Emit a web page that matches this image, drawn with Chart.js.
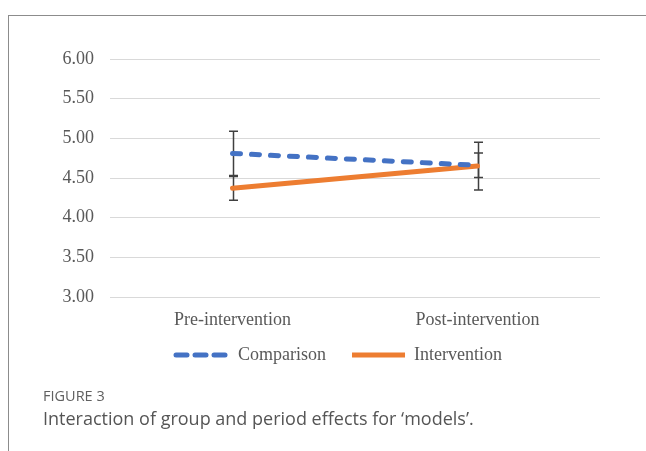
<!DOCTYPE html>
<html>
<head>
<meta charset="utf-8">
<script src="https://cdn.jsdelivr.net/npm/chart.js@4.4.0/dist/chart.umd.min.js"></script>
<style>
  html, body { margin: 0; padding: 0; background: #fff; }
  body { width: 646px; height: 451px; position: relative; overflow: hidden; }
  #frame { position: absolute; left: 8px; top: 15px; width: 660px; height: 460px;
           border-top: 1px solid #8c8c8c; border-left: 1px solid #8c8c8c; }
  #wrap { position: absolute; left: 0; top: 0; width: 646px; height: 420px; }
  #cap1 { position: absolute; left: 43px; top: 386px; font-family: "Open Sans", sans-serif;
          font-size: 14.5px; color: #606060; }
  #cap2 { position: absolute; left: 43px; top: 406px; font-family: "Open Sans", sans-serif;
          font-size: 18px; color: #555555; }
</style>
</head>
<body>
<div id="frame"></div>
<div id="wrap"><canvas id="c"></canvas></div>
<div id="cap1">FIGURE 3</div>
<div id="cap2">Interaction of group and period effects for ‘models’.</div>
<script>
const categories = ['Pre-intervention', 'Post-intervention'];
const comparison = [4.81, 4.66];
const intervention = [4.37, 4.65];
const comparisonErr = [0.28, 0.155];
const interventionErr = [0.15, 0.30];
const yTicks = [3.0, 3.5, 4.0, 4.5, 5.0, 5.5, 6.0];

const errorBars = {
  id: 'errorBars',
  beforeDatasetsDraw(chart) {
    const ctx = chart.ctx;
    const ys = chart.scales.y;
    const errs = [comparisonErr, interventionErr];
    ctx.save();
    ctx.strokeStyle = '#404040';
    ctx.lineWidth = 1.5;
    chart.data.datasets.forEach((ds, di) => {
      const meta = chart.getDatasetMeta(di);
      meta.data.forEach((pt, i) => {
        const v = ds.data[i], e = errs[di][i];
        const x = Math.round(pt.x) + 0.5;
        const yt = ys.getPixelForValue(v + e);
        const yb = ys.getPixelForValue(v - e);
        ctx.beginPath();
        ctx.moveTo(x, yt); ctx.lineTo(x, yb);
        ctx.moveTo(x - 4.5, yt); ctx.lineTo(x + 4.5, yt);
        ctx.moveTo(x - 4.5, yb); ctx.lineTo(x + 4.5, yb);
        ctx.stroke();
      });
    });
    ctx.restore();
  }
};

// nudge the legend block to match the reference placement
const legendNudge = {
  id: 'legendNudge',
  afterLayout(chart) {
    const l = chart.legend;
    l.left += 9; l.right += 9;
    l.top -= 11; l.bottom -= 11;
  }
};

const serif = "'Liberation Serif', 'Times New Roman', serif";

new Chart(document.getElementById('c'), {
  type: 'line',
  data: {
    labels: categories,
    datasets: [
      { label: 'Comparison', data: comparison, borderColor: '#4472C4', backgroundColor: '#4472C4',
        borderWidth: 5, borderDash: [8, 11], borderCapStyle: 'round', pointRadius: 0, tension: 0 },
      { label: 'Intervention', data: intervention, borderColor: '#ED7D31', backgroundColor: '#ED7D31',
        borderWidth: 5, borderCapStyle: 'round', pointRadius: 0, tension: 0 }
    ]
  },
  options: {
    responsive: true,
    maintainAspectRatio: false,
    animation: false,
    layout: { padding: { left: 60, right: 46, top: 59, bottom: 35 } },
    plugins: {
      tooltip: { enabled: false },
      legend: {
        position: 'bottom',
        labels: {
          font: { family: serif, size: 18 },
          color: '#595959',
          boxWidth: 53,
          boxHeight: 0,
          padding: 26,
          generateLabels(chart) {
            return chart.data.datasets.map((ds, i) => ({
              text: ds.label,
              fillStyle: 'rgba(0,0,0,0)',
              strokeStyle: ds.borderColor,
              lineWidth: 5,
              lineDash: ds.borderDash || [],
              lineCap: 'round',
              fontColor: '#595959',
              datasetIndex: i,
              hidden: false
            }));
          }
        }
      }
    },
    scales: {
      x: {
        offset: true,
        grid: { display: false, drawTicks: false, offset: true },
        border: { display: false },
        ticks: { font: { family: serif, size: 18 }, color: '#595959', padding: 12 },
        afterFit(s) { s.height = 34; }
      },
      y: {
        min: 3, max: 6,
        afterBuildTicks(s) { s.ticks = yTicks.map(v => ({ value: v })); },
        afterFit(s) { s.width = 50; },
        grid: { color: '#d9d9d9', lineWidth: 1, drawTicks: false },
        border: { display: false },
        ticks: { font: { family: serif, size: 18 }, color: '#595959', padding: 16,
                 callback: v => Number(v).toFixed(2) }
      }
    }
  },
  plugins: [errorBars, legendNudge]
});
</script>
</body>
</html>
